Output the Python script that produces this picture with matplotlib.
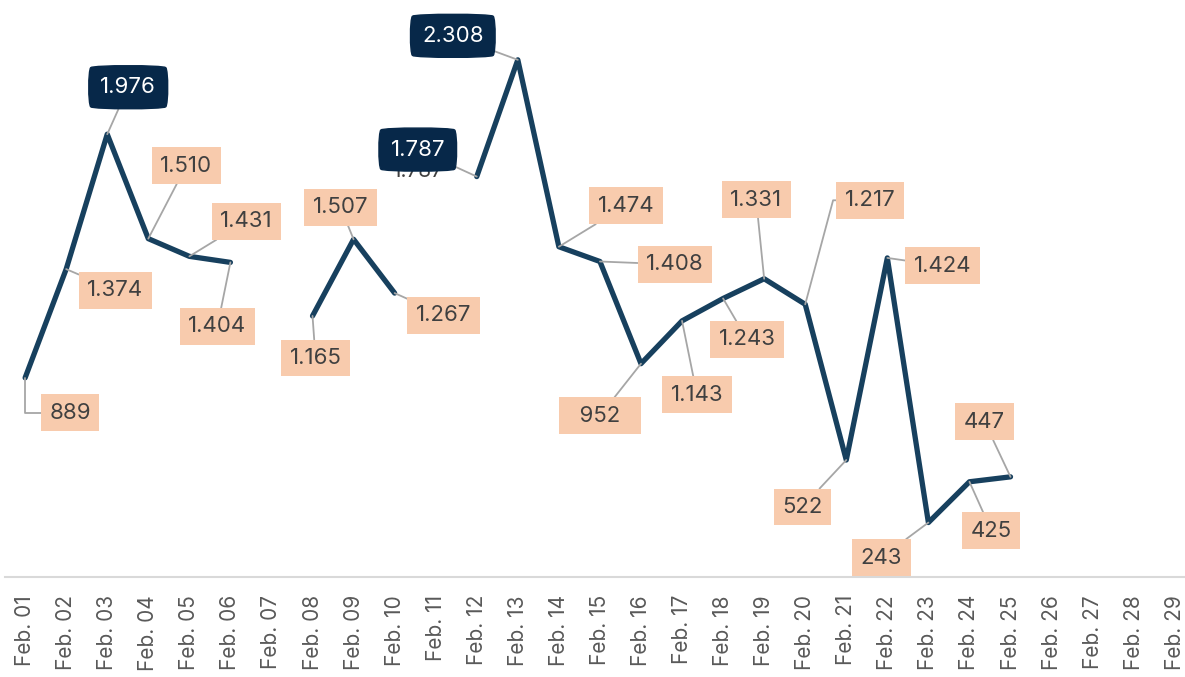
import numpy as np
import matplotlib
matplotlib.use('Agg')
import matplotlib.pyplot as plt

plt.rcParams['font.family'] = ['Inter', 'DejaVu Sans']

# data
days = ['Feb. %02d' % d for d in range(1, 30)]
values = [889, 1374, 1976, 1510, 1431, 1404, None, 1165, 1507, 1267, None,
          1787, 2308, 1474, 1408, 952, 1143, 1243, 1331, 1217, 522, 1424,
          243, 425, 447, None, None, None, None]
highlight = [2, 11, 12]  # dark boxes

# label offsets (pixels) from the point
offsets = {0: (45, -35), 1: (49, -21), 2: (21, 47), 3: (38, 73), 4: (57, 35),
           5: (-13, -64), 7: (3, -42), 8: (-13, 32), 9: (49, -22),
           11: (-59, 27), 12: (-65, 24), 13: (67, 41), 14: (75, -3),
           15: (-41, -52), 16: (15, -74), 17: (24, -41), 18: (-8, 79),
           19: (65, 104), 20: (-44, -47), 21: (55, -8), 22: (-47, -35),
           23: (22, -49), 24: (-26, 55)}

y = np.array([np.nan if v is None else v for v in values], dtype=float)
x = np.arange(len(days))

fig = plt.figure(figsize=(11.85, 6.77), dpi=100)
ax = fig.add_axes([5 / 1185, 1 - 577 / 677, 1 - 5 / 1185, 577 / 677])

ax.plot(x, y, color='#17405E', lw=3.8, solid_capstyle='round',
        solid_joinstyle='round', zorder=3)

def fmt(v):
    return f'{v:,}'.replace(',', '.')

for i, v in enumerate(values):
    if v is None:
        continue
    dx, dy = offsets[i]
    txt = fmt(v)
    if i == 15:
        txt = '  ' + txt + '  '
    if i in highlight:
        # original label peeking out under the dark box
        if i == 11:
            ax.annotate(txt, (i, v), xytext=(dx, dy - 21), textcoords='offset pixels',
                        ha='center', va='center', fontsize=15, color='#404040', zorder=4)
        ax.annotate(txt, (i, v), xytext=(dx, dy), textcoords='offset pixels',
                    ha='center', va='center', fontsize=16, color='white', zorder=6,
                    bbox=dict(boxstyle='round4,pad=0.55,rounding_size=0.12',
                              fc='#072849', ec='#072849'),
                    arrowprops=dict(arrowstyle='-', color='#A6A6A6', lw=1.3,
                                    shrinkA=0, shrinkB=0))
    else:
        if i == 0:
            cs = 'angle,angleA=0,angleB=90,rad=0'
        elif i == 19:
            cs = 'angle,angleA=0,angleB=75,rad=0'
        else:
            cs = 'arc3'
        ax.annotate(txt, (i, v), xytext=(dx, dy), textcoords='offset pixels',
                    ha='center', va='center', fontsize=16, color='#404040', zorder=5,
                    bbox=dict(boxstyle='square,pad=0.38', fc='#F8CBAD', ec='none'),
                    arrowprops=dict(arrowstyle='-', color='#A6A6A6', lw=1.3,
                                    shrinkA=0, shrinkB=0, connectionstyle=cs))

ax.set_xlim(-0.49, 28.25)
ax.set_ylim(0, 2575)
ax.set_xticks(x)
ax.set_xticklabels(days, rotation=90, fontsize=15, color='#595959')
ax.tick_params(axis='x', length=0, pad=13)
ax.set_yticks([])
for s in ['top', 'left', 'right']:
    ax.spines[s].set_visible(False)
ax.spines['bottom'].set_color('#D9D9D9')
ax.spines['bottom'].set_linewidth(1.5)
ax.patch.set_alpha(0)

fig.savefig('out.png', dpi=100)
